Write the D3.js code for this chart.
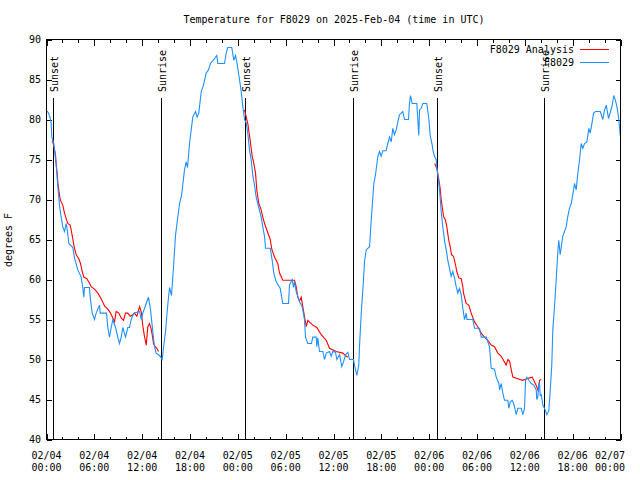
<!DOCTYPE html>
<html><head><meta charset="utf-8">
<script src="https://cdn.jsdelivr.net/npm/d3@7"></script>
<style>
body{margin:0;background:#fff;}
svg{display:block;}
text{font-family:"DejaVu Sans Mono","Liberation Mono",monospace;font-size:10px;fill:#000;}
</style></head>
<body>
<svg id="chart" width="640" height="480"></svg>
<script>
// ---- data (hours since 2025-02-04 00:00 UTC, degrees F) ----
const obsHours = [
0,0.13,0.29,0.46,0.59,0.66,0.88,1.0,1.09,1.22,
1.29,1.42,1.54,1.63,1.76,2.04,2.26,2.47,2.63,2.80,
3.30,3.51,3.93,4.35,4.55,4.68,4.77,5.39,5.48,5.73,
6.02,6.23,6.65,6.74,7.53,7.69,7.90,8.12,8.32,8.66,
8.94,9.16,9.37,9.57,9.91,10.20,10.41,10.62,10.95,11.67,
11.88,12.08,12.51,12.79,13.05,13.33,13.55,13.76,14.17,14.51,
14.68,14.93,15.18,15.43,15.68,15.93,16.18,16.43,16.69,16.94,
17.31,17.52,17.69,17.94,18.15,18.35,18.69,18.90,19.10,19.41,
19.69,20.03,20.32,20.57,21.07,21.36,21.49,22.33,22.54,22.74,
23.24,23.50,23.71,23.87,24.21,24.42,24.63,24.84,25.05,25.25,
25.46,25.67,25.88,26.09,26.30,26.63,26.93,27.13,27.35,27.47,
28.06,28.31,28.51,28.81,29.31,29.64,30.36,30.48,30.82,30.98,
31.11,31.32,31.74,32.07,32.36,32.49,32.78,33.24,33.40,33.83,
33.91,34.03,34.24,34.66,34.87,35.09,35.50,35.71,35.91,36.25,
36.42,36.76,37.04,37.26,37.51,37.80,38.01,38.51,38.63,38.92,
39.17,39.26,39.48,39.68,39.89,40.10,40.52,40.73,40.85,41.06,
41.27,41.56,41.77,41.98,42.19,42.61,42.81,43.03,43.24,43.44,
43.65,43.87,44.07,44.28,44.69,44.91,45.41,45.53,45.66,45.87,
46.45,46.70,46.79,47.00,47.20,47.70,47.96,48.13,48.38,48.46,
48.67,48.88,49.00,49.17,49.30,49.51,49.71,49.92,50.14,50.34,
50.55,50.76,50.96,51.18,51.39,51.59,51.80,52.02,52.22,52.43,
52.64,52.74,53.47,53.69,54.31,54.53,55.16,55.57,55.78,56.20,
56.41,56.74,56.83,57.04,57.24,57.45,57.87,57.99,58.17,58.42,
58.59,58.75,58.92,59.12,59.55,59.75,59.96,60.09,60.25,60.50,
60.80,61.13,61.43,61.50,61.63,61.75,61.84,61.93,62.06,62.26,
62.47,62.76,63.01,63.19,63.38,63.51,63.72,63.93,64.13,64.26,
64.43,64.60,64.76,64.98,65.19,65.39,65.60,65.82,66.02,66.23,
66.44,66.65,66.86,67.07,67.27,67.49,67.78,68.03,68.20,68.45,
68.62,68.87,69.46,69.78,70.00,70.21,70.50,70.75,70.96,71.16,
71.37,71.59,71.79,71.96
];
const obsTemps = [
81.0,81.0,80.7,80.2,79.5,77.8,77.2,76.4,75.4,74.3,
73.3,71.6,70.3,69.3,68.3,66.6,66.0,67.0,66.0,64.5,
64.0,62.7,61.2,60.3,59.0,57.8,59.0,59.0,57.8,55.8,
55.0,55.8,56.8,55.8,55.8,54.0,52.8,54.0,55.0,54.0,
52.8,52.0,52.8,54.0,52.8,54.0,54.0,55.0,55.8,56.0,
55.0,55.8,57.0,57.8,56.2,53.5,51.6,50.8,50.5,50.0,
51.5,53.5,56.5,59.0,58.0,61.5,65.5,67.5,69.5,70.5,
73.7,74.7,74.0,77.0,78.7,80.3,81.0,80.3,80.8,83.5,
84.3,85.8,86.2,87.0,87.6,88.0,87.0,87.0,88.3,89.0,
89.0,87.4,88.0,87.2,85.0,83.5,81.6,80.0,79.6,78.3,
76.2,75.0,73.0,71.8,70.3,69.0,67.8,66.6,65.4,63.9,
63.9,62.4,60.8,59.7,58.9,57.0,57.0,59.3,60.0,59.0,
59.7,58.5,57.2,56.6,55.0,52.8,52.0,52.0,52.8,52.8,
51.6,52.7,51.0,51.0,50.0,50.8,51.0,50.4,51.0,50.9,
50.0,50.6,49.1,49.7,50.6,50.9,50.0,50.0,49.3,48.0,
49.3,51.6,55.8,58.7,62.2,63.7,64.1,67.4,69.1,72.0,
73.1,75.4,76.0,75.4,76.1,76.1,77.0,77.8,77.2,78.9,
78.1,78.7,79.7,80.6,81.0,80.0,80.0,82.0,83.0,82.0,
82.0,78.0,81.2,81.4,82.0,82.0,80.1,78.0,76.8,76.2,
75.4,75.0,73.7,72.4,71.2,68.5,66.6,64.9,63.7,62.4,
61.4,60.4,61.0,60.2,59.1,58.3,58.9,58.1,56.4,55.0,
55.8,55.0,55.0,53.9,53.9,52.8,52.8,51.6,48.9,48.8,
47.8,47.0,46.2,47.0,45.8,44.9,44.9,43.9,44.7,44.9,
44.5,43.9,43.1,43.9,43.9,43.1,43.9,47.4,47.8,47.4,
47.0,46.8,46.2,45.0,45.3,47.0,47.0,45.5,45.6,44.3,
43.9,43.1,43.6,46.2,49.3,53.7,56.6,59.9,63.3,64.9,
63.1,64.3,65.4,66.0,66.6,67.9,68.9,69.5,70.6,72.0,
71.2,73.3,74.9,77.0,76.4,77.0,77.2,78.9,78.3,79.7,
80.8,81.0,81.0,80.0,81.2,81.8,80.1,81.0,81.8,83.0,
82.4,81.4,80.0,78.0
];
// analysis: null temperature marks a daytime gap
const anaHours = [
0.72,0.88,1.00,1.13,1.22,1.34,1.42,1.54,1.72,1.84,
2.04,2.26,2.47,2.67,2.97,3.17,3.51,3.73,4.05,4.26,
4.48,4.68,5.06,5.31,5.61,6.02,6.44,6.86,7.28,7.69,
8.03,8.32,8.53,8.74,9.07,9.37,9.66,9.91,10.20,10.50,
10.83,11.04,11.33,11.67,11.88,12.08,12.29,12.51,12.71,12.92,
13.13,13.26,13.42,13.64,13.84,14.05,19.0,
24.84,25.25,25.55,25.80,25.97,26.22,26.38,26.63,26.93,27.13,
27.35,27.56,27.85,28.06,28.26,28.60,29.01,29.23,29.64,31.11,
31.32,31.52,31.74,31.95,32.15,32.36,32.58,32.78,33.40,33.91,
34.46,35.09,35.50,36.34,37.17,37.59,37.80,43.0,
48.70,48.98,49.08,49.38,49.51,49.80,50.05,50.21,50.46,50.64,
50.80,51.05,51.27,51.47,51.72,52.02,52.22,52.31,52.64,52.97,
53.27,53.69,54.10,54.53,54.94,55.36,55.78,56.20,56.61,57.04,
57.66,57.87,58.08,58.49,59.12,59.75,60.25,60.59,60.93,61.22,
61.50,61.71,61.84,62.06
];
const anaTemps = [
77.4,76.8,76.2,75.6,74.3,73.3,72.2,71.2,70.0,69.7,
69.3,68.3,67.6,67.0,66.8,65.8,63.9,63.1,62.6,62.0,
61.0,60.3,60.1,59.7,59.1,58.8,58.3,57.6,56.7,56.3,
55.8,55.2,54.7,56.0,55.8,55.2,54.9,55.8,55.8,55.4,
55.6,55.8,55.4,56.6,56.0,54.2,52.9,51.8,54.1,54.5,
53.8,53.1,52.0,51.6,51.4,51.0,null,
81.2,79.5,77.4,75.4,74.7,73.3,71.2,69.5,68.7,67.8,
67.0,66.4,65.6,65.0,63.8,62.8,62.0,60.8,59.9,59.9,
59.1,57.8,57.3,57.8,56.6,55.4,54.1,54.9,54.3,54.0,
53.1,52.4,51.4,51.0,50.8,50.4,50.3,null,
74.5,73.8,73.3,71.4,70.0,67.9,67.4,66.6,64.9,64.1,
63.1,62.9,62.0,61.0,60.2,60.1,59.1,58.3,57.0,56.8,
55.8,54.7,54.1,53.3,52.8,52.4,51.8,51.6,50.8,50.4,
49.3,50.0,49.8,47.8,47.6,47.4,47.6,47.7,47.8,47.2,
46.6,46.0,47.4,47.5
];
const sunHours = [0.79, 14.39, 24.87, 38.42, 48.96, 62.38];
const sunLabels = ["Sunset","Sunrise","Sunset","Sunrise","Sunset","Sunrise"];
const yTicks = [40,45,50,55,60,65,70,75,80,85,90];
const seriesNames = ["F8029 Analysis","F8029"];
const seriesColors = ["#ff0000","#1e90ff"];
const titleText = "Temperature for F8029 on 2025-Feb-04 (time in UTC)";
const yLabel = "degrees F";

// ---- drawing ----
const t0 = Date.UTC(2025,1,4,0,0);
const H = 3600*1000;
const toDate = h => new Date(t0 + h*H);
const L = 46.5, R = 620.5, T = 39.5, B = 439.5;
const svg = d3.select("#chart");
const x = d3.scaleUtc().domain([toDate(0), toDate(72)]).range([L, R]);
const y = d3.scaleLinear().domain([40,90]).range([B, T]);

svg.append("text").attr("x", 334).attr("y", 23).attr("text-anchor","middle").text(titleText);
svg.append("text").attr("transform","translate(12,240) rotate(-90)").attr("text-anchor","middle").text(yLabel);

const majorT = d3.utcHour.every(6).range(toDate(0), toDate(72.01));
const minorT = d3.utcHour.every(2).range(toDate(0), toDate(72.01));
const fmt1 = d3.utcFormat("%m/%d"), fmt2 = d3.utcFormat("%H:%M");

function axisG(gen, tx, ty){
  const g = svg.append("g").attr("transform",`translate(${tx},${ty})`).call(gen);
  g.select(".domain").remove();
  g.selectAll("line").attr("stroke","#000").attr("shape-rendering","crispEdges");
  g.selectAll("text").remove();
  return g;
}
axisG(d3.axisBottom(x).tickValues(minorT).tickSize(-3).tickFormat(""), 0, B);
axisG(d3.axisBottom(x).tickValues(majorT).tickSize(-6).tickFormat(""), 0, B);
axisG(d3.axisTop(x).tickValues(minorT).tickSize(-3).tickFormat(""), 0, T);
axisG(d3.axisTop(x).tickValues(majorT).tickSize(-6).tickFormat(""), 0, T);
axisG(d3.axisLeft(y).tickValues(yTicks).tickSize(-5).tickFormat(""), L, 0);
axisG(d3.axisRight(y).tickValues(yTicks).tickSize(-5).tickFormat(""), R, 0);

const xl = svg.append("g");
majorT.forEach((d, i) => {
  // the last label is pulled back inside the canvas, as in the original
  const cx = Math.min(x(d), 610);
  const t = xl.append("text").attr("x", cx).attr("text-anchor","middle");
  t.append("tspan").attr("x", cx).attr("y", 459).text(fmt1(d));
  t.append("tspan").attr("x", cx).attr("y", 471).text(fmt2(d));
});
yTicks.forEach(v => {
  svg.append("text").attr("x", 41).attr("y", y(v)+3.5).attr("text-anchor","end").text(v);
});

// sunrise / sunset markers
sunHours.forEach((h,i) => {
  const xx = Math.round(x(toDate(h))) + 0.5;
  svg.append("line").attr("x1",xx).attr("x2",xx).attr("y1",98).attr("y2",B)
    .attr("stroke","#000").attr("shape-rendering","crispEdges");
  svg.append("text").attr("transform",`translate(${xx+4},92) rotate(-90)`).text(sunLabels[i]);
});

const line = d3.line().defined(d => d[1] != null).x(d => x(toDate(d[0]))).y(d => y(d[1]));
const ana = anaHours.map((h,i)=>[h, anaTemps[i]]);
const obs = obsHours.map((h,i)=>[h, obsTemps[i]]);
svg.append("path").datum(ana).attr("d", line).attr("fill","none").attr("stroke",seriesColors[0]).attr("stroke-width",1.1);
svg.append("path").datum(obs).attr("d", line).attr("fill","none").attr("stroke",seriesColors[1]).attr("stroke-width",1.1);

// border
svg.append("rect").attr("x",L).attr("y",T).attr("width",R-L).attr("height",B-T)
  .attr("fill","none").attr("stroke","#000").attr("shape-rendering","crispEdges");

// legend
seriesNames.forEach((n,i) => {
  const yy = 49 + i*13;
  svg.append("text").attr("x",574).attr("y",yy+3.5).attr("text-anchor","end").text(n);
  svg.append("line").attr("x1",580).attr("x2",609).attr("y1",yy+0.5).attr("y2",yy+0.5)
    .attr("stroke",seriesColors[i]).attr("shape-rendering","crispEdges");
});
</script>
</body></html>
